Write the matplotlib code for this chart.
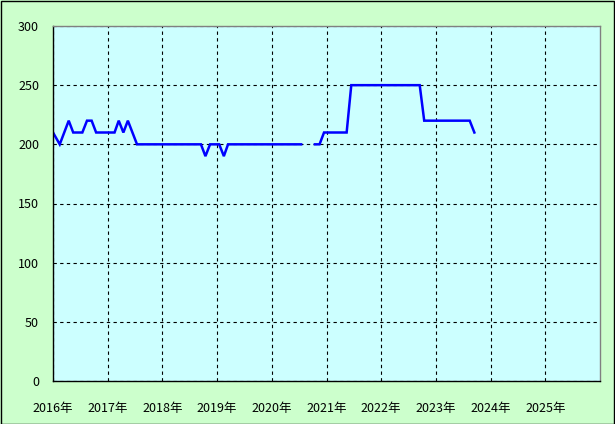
import matplotlib
matplotlib.use("Agg")
import matplotlib.pyplot as plt
import matplotlib.dates as mdates
import numpy as np
import pandas as pd
from matplotlib.patches import Rectangle

plt.rcParams['font.family'] = ['Noto Sans CJK JP', 'DejaVu Sans']

dates = ['2016-01-01', '2016-02-15', '2016-04-15', '2016-05-15', '2016-07-15',
         '2016-08-15', '2016-09-15', '2016-10-15', '2017-02-15', '2017-03-15',
         '2017-04-15', '2017-05-15', '2017-07-15', '2018-09-15', '2018-10-15',
         '2018-11-15', '2019-01-15', '2019-02-15', '2019-03-15', '2020-07-15',
         '2020-08-15', '2020-10-15', '2020-11-15', '2020-12-15', '2021-05-15',
         '2021-06-15', '2022-09-15', '2022-10-15', '2023-08-15', '2023-09-15']
values = [210, 200, 220, 210, 210,
          220, 220, 210, 210, 220,
          210, 220, 200, 200, 190,
          200, 200, 190, 200, 200,
          np.nan, 200, 200, 210, 210,
          250, 250, 220, 220, 210]

years = list(range(2016, 2027))
year_labels = [f'{y}年' for y in years[:-1]]
yticks = [0, 50, 100, 150, 200, 250, 300]

x = pd.to_datetime(dates)

fig = plt.figure(figsize=(6.15, 4.24), dpi=100, facecolor='#ccffcc')
ax = fig.add_axes([53/615, 43/424, 547/615, 355/424])
ax.set_facecolor('#ccffff')

ax.plot(x, values, color='#0000ff', lw=1.8, solid_joinstyle='miter')

ax.set_xlim(pd.Timestamp('2016-01-01'), pd.Timestamp('2026-01-01'))
ax.set_ylim(0, 300)
xt = [pd.Timestamp(f'{y}-01-01') for y in years[:-1]]
ax.set_xticks(xt)
ax.set_xticklabels(year_labels)
ax.set_yticks(yticks)
ax.set_yticklabels([str(v) for v in yticks])
ax.tick_params(axis='both', length=0, labelsize=9, colors='black')
ax.tick_params(axis='x', pad=15)
ax.tick_params(axis='y', pad=10)

ax.grid(True, color='black', linestyle=(0, (3, 3)), lw=0.8)
for s in ['left', 'bottom']:
    ax.spines[s].set_color('black')
    ax.spines[s].set_linewidth(1.0)
for s in ['top', 'right']:
    ax.spines[s].set_color('#808080')
    ax.spines[s].set_linewidth(1.0)

fig.patches.append(Rectangle((0.5/615, 0.5/424), 1 - 1.5/615, 1 - 1.5/424,
                             transform=fig.transFigure, fill=False,
                             edgecolor='black', lw=1.0))

fig.savefig('out.png', dpi=100, facecolor=fig.get_facecolor())
